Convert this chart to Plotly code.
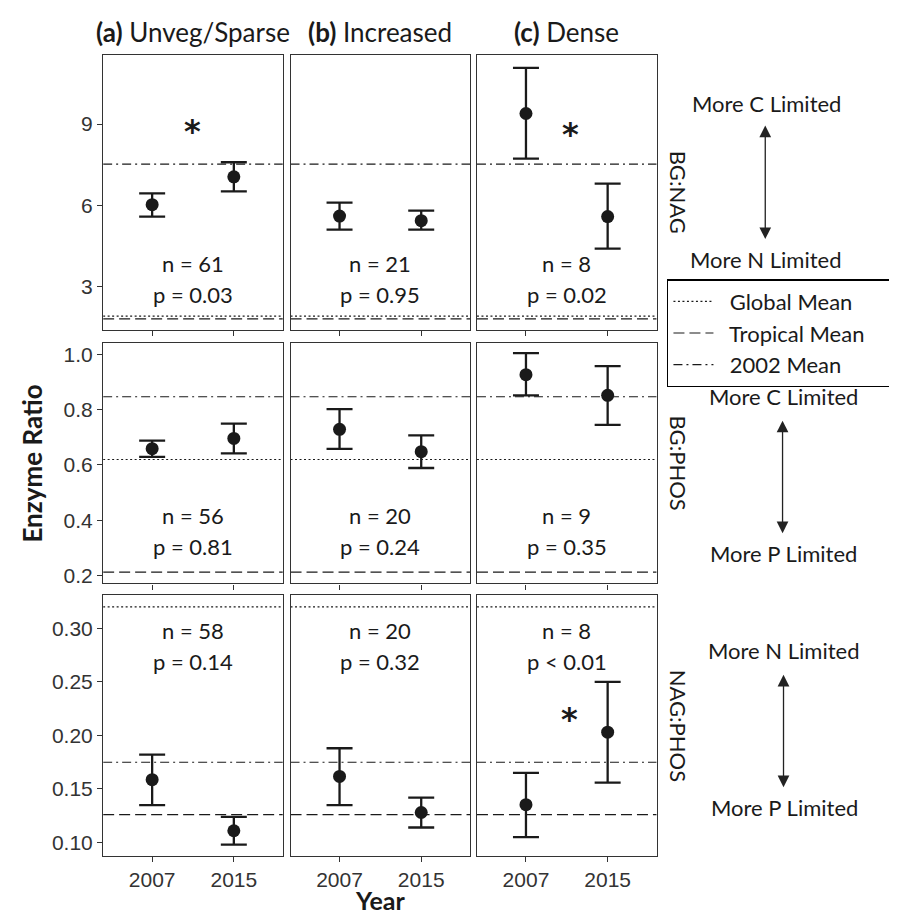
import plotly.graph_objects as go

# ---------------- data ----------------
years = ["2007", "2015"]
column_tags = ["(a)", "(b)", "(c)"]
column_names = ["Unveg/Sparse", "Increased", "Dense"]
ratio_names = ["BG:NAG", "BG:PHOS", "NAG:PHOS"]

# BG:NAG  (per column: [2007, 2015])
bg_nag_mean = [[6.02, 7.05], [5.60, 5.43], [9.39, 5.58]]
bg_nag_upper = [[6.44, 7.59], [6.10, 5.80], [11.08, 6.80]]
bg_nag_lower = [[5.58, 6.51], [5.10, 5.10], [7.72, 4.40]]

# BG:PHOS
bg_phos_mean = [[0.659, 0.696], [0.729, 0.648], [0.927, 0.852]]
bg_phos_upper = [[0.688, 0.750], [0.802, 0.707], [1.005, 0.958]]
bg_phos_lower = [[0.629, 0.642], [0.658, 0.589], [0.852, 0.745]]

# NAG:PHOS
nag_phos_mean = [[0.1587, 0.111], [0.1617, 0.128], [0.1353, 0.203]]
nag_phos_upper = [[0.182, 0.124], [0.188, 0.142], [0.165, 0.250]]
nag_phos_lower = [[0.135, 0.098], [0.135, 0.114], [0.105, 0.156]]

# reference means per ratio
global_mean = [1.90, 0.62, 0.320]
tropical_mean = [1.80, 0.212, 0.126]
mean_2002 = [7.52, 0.847, 0.175]

# sample sizes and p-values per ratio, per column
n_values = [[61, 21, 8], [56, 20, 9], [58, 20, 8]]
p_labels = [["p = 0.03", "p = 0.95", "p = 0.02"],
            ["p = 0.81", "p = 0.24", "p = 0.35"],
            ["p = 0.14", "p = 0.32", "p < 0.01"]]

# significance asterisks: (row, col, x, y)
asterisks = [(0, 0, 1.5, 9.0), (0, 2, 1.54, 8.9), (2, 2, 1.53, 0.222)]

# direction labels per ratio
upper_labels = ["More C Limited", "More C Limited", "More N Limited"]
lower_labels = ["More N Limited", "More P Limited", "More P Limited"]

y_ticks = [[3, 6, 9], [0.2, 0.4, 0.6, 0.8, 1.0], [0.10, 0.15, 0.20, 0.25, 0.30]]
y_formats = [".0f", ".1f", ".2f"]

means = [bg_nag_mean, bg_phos_mean, nag_phos_mean]
uppers = [bg_nag_upper, bg_phos_upper, nag_phos_upper]
lowers = [bg_nag_lower, bg_phos_lower, nag_phos_lower]

# ---------------- layout geometry ----------------
W, H = 897, 914
x_dom_px = [(99, 286), (294, 481), (488, 675)]
y_dom_px = [(46.7, 323.3), (336, 577.3), (589, 850.7)]
y_ranges = [[1.38, 11.57], [0.171, 1.042], [0.0875, 0.331]]
n_text_y = [3.83, 0.416, 0.298]
p_text_y = [2.70, 0.304, 0.269]
x_pos = [1, 2]

INK = "#1a1a1a"
AX = "#333333"
TXT_FONT = "Lato"
TICK_FONT = "Liberation Sans"
NBSP = "\u00a0"

fig = go.Figure()
layout = dict(
    width=W, height=H, margin=dict(l=0, r=0, t=0, b=0),
    paper_bgcolor="white", plot_bgcolor="white", showlegend=True,
)
annotations = []

line_styles = [("Global Mean", global_mean, "2px,2.5px"),
               ("Tropical Mean", tropical_mean, "11px,5px"),
               ("2002 Mean", mean_2002, "9px,4px,2px,4px")]

for r in range(3):
    for c in range(3):
        i = r * 3 + c + 1
        xa = "x" if i == 1 else f"x{i}"
        ya = "y" if i == 1 else f"y{i}"
        xkey = "xaxis" if i == 1 else f"xaxis{i}"
        ykey = "yaxis" if i == 1 else f"yaxis{i}"
        x0, x1 = x_dom_px[c]
        y0, y1 = y_dom_px[r]
        layout[xkey] = dict(
            domain=[x0 / W, x1 / W], anchor=ya, range=[0.4, 2.6],
            tickvals=x_pos, ticktext=years, showticklabels=(r == 2),
            ticks="outside", ticklen=5, tickcolor=AX, tickwidth=1,
            showline=True, mirror=True, linecolor=AX, linewidth=1.3,
            showgrid=False, zeroline=False, fixedrange=True,
            tickfont=dict(family=TICK_FONT, size=21, color=AX),
        )
        layout[ykey] = dict(
            domain=[1 - y1 / H, 1 - y0 / H], anchor=xa, range=y_ranges[r],
            tickvals=y_ticks[r], tickformat=y_formats[r],
            showticklabels=(c == 0), ticks="outside" if c == 0 else "",
            ticklen=5, tickcolor=AX, tickwidth=1,
            showline=True, mirror=True, linecolor=AX, linewidth=1.3,
            showgrid=False, zeroline=False, fixedrange=True,
            tickfont=dict(family=TICK_FONT, size=21, color=AX),
        )
        # reference lines
        for name, vals, dash in line_styles:
            fig.add_trace(go.Scatter(
                x=[0.4, 2.6], y=[vals[r], vals[r]], mode="lines",
                line=dict(color=INK, width=1.1, dash=dash),
                name=NBSP * 2 + name + NBSP * 6, legendgroup=name,
                showlegend=(r == 0 and c == 0), hoverinfo="skip",
                xaxis=xa, yaxis=ya, cliponaxis=True,
            ))
        m = means[r][c]
        up = uppers[r][c]
        lo = lowers[r][c]
        fig.add_trace(go.Scatter(
            x=x_pos, y=m, mode="markers",
            marker=dict(size=13, color=INK),
            error_y=dict(type="data", symmetric=False,
                         array=[u - v for u, v in zip(up, m)],
                         arrayminus=[v - l for v, l in zip(m, lo)],
                         width=13, thickness=2.3, color=INK),
            showlegend=False, xaxis=xa, yaxis=ya, cliponaxis=False,
        ))
        annotations.append(dict(
            x=1.5, y=n_text_y[r], xref=xa, yref=ya, showarrow=False,
            text=f"n = {n_values[r][c]}", xanchor="center", yanchor="middle",
            font=dict(family=TXT_FONT, size=22, color=INK)))
        annotations.append(dict(
            x=1.5, y=p_text_y[r], xref=xa, yref=ya, showarrow=False,
            text=p_labels[r][c], xanchor="center", yanchor="middle",
            font=dict(family=TXT_FONT, size=22, color=INK)))

for (r, c, ax_, ay_) in asterisks:
    i = r * 3 + c + 1
    xa = "x" if i == 1 else f"x{i}"
    ya = "y" if i == 1 else f"y{i}"
    annotations.append(dict(
        x=ax_, y=ay_, xref=xa, yref=ya, showarrow=False, text="<b>*</b>",
        xanchor="center", yanchor="middle", yshift=-7,
        font=dict(family="DejaVu Sans", size=32, color=INK)))

# column titles
for c in range(3):
    cx = (x_dom_px[c][0] + x_dom_px[c][1]) / 2
    annotations.append(dict(
        x=cx / W, y=1 - 24 / H, xref="paper", yref="paper", showarrow=False,
        text=f"<b>{column_tags[c]}</b> {column_names[c]}",
        xanchor="center", yanchor="middle",
        font=dict(family=TXT_FONT, size=26, color=INK)))

# row strip labels
for r in range(3):
    cy = (y_dom_px[r][0] + y_dom_px[r][1]) / 2
    annotations.append(dict(
        x=698 / W, y=1 - cy / H, xref="paper", yref="paper", showarrow=False,
        text=ratio_names[r], textangle=90, xanchor="center", yanchor="middle",
        font=dict(family=TXT_FONT, size=22, color=INK)))

# direction arrows and labels
arrow_x = [788, 806, 807]
arrow_top = [118, 414, 669]
arrow_bot = [233, 528, 783]
label_top = [96, 390, 645]
label_bot = [252, 547, 802]
for r in range(3):
    annotations.append(dict(
        x=arrow_x[r] / W, y=1 - arrow_top[r] / H, xref="paper", yref="paper",
        ax=0, ay=arrow_bot[r] - arrow_top[r], axref="pixel", ayref="pixel",
        text="", showarrow=True, arrowhead=2, startarrowhead=2,
        arrowside="end+start", arrowsize=1.8, startarrowsize=1.8,
        arrowwidth=1.3, arrowcolor="#222222", standoff=0, startstandoff=0))
    annotations.append(dict(
        x=(arrow_x[r] + 1) / W, y=1 - label_top[r] / H, xref="paper", yref="paper",
        showarrow=False, text=upper_labels[r], xanchor="center", yanchor="middle",
        font=dict(family=TXT_FONT, size=22, color=INK)))
    annotations.append(dict(
        x=(arrow_x[r] + 1) / W, y=1 - label_bot[r] / H, xref="paper", yref="paper",
        showarrow=False, text=lower_labels[r], xanchor="center", yanchor="middle",
        font=dict(family=TXT_FONT, size=22, color=INK)))

# axis titles
annotations.append(dict(
    x=24 / W, y=1 - 457 / H, xref="paper", yref="paper", showarrow=False,
    text="<b>Enzyme Ratio</b>", textangle=-90, xanchor="center", yanchor="middle",
    font=dict(family=TXT_FONT, size=26, color=INK)))
annotations.append(dict(
    x=387 / W, y=2 / H, xref="paper", yref="paper", showarrow=False,
    text="<b>Year</b>", xanchor="center", yanchor="bottom",
    font=dict(family=TXT_FONT, size=25, color=INK)))

layout["annotations"] = annotations
layout["legend"] = dict(
    x=685.7 / W, y=1 - 272 / H, xanchor="left", yanchor="top",
    bordercolor="black", borderwidth=1.5, bgcolor="white",
    font=dict(family=TXT_FONT, size=22, color=INK),
    itemwidth=40, tracegroupgap=0, traceorder="normal",
)
fig.update_layout(**layout)
fig.write_html("out.html")
